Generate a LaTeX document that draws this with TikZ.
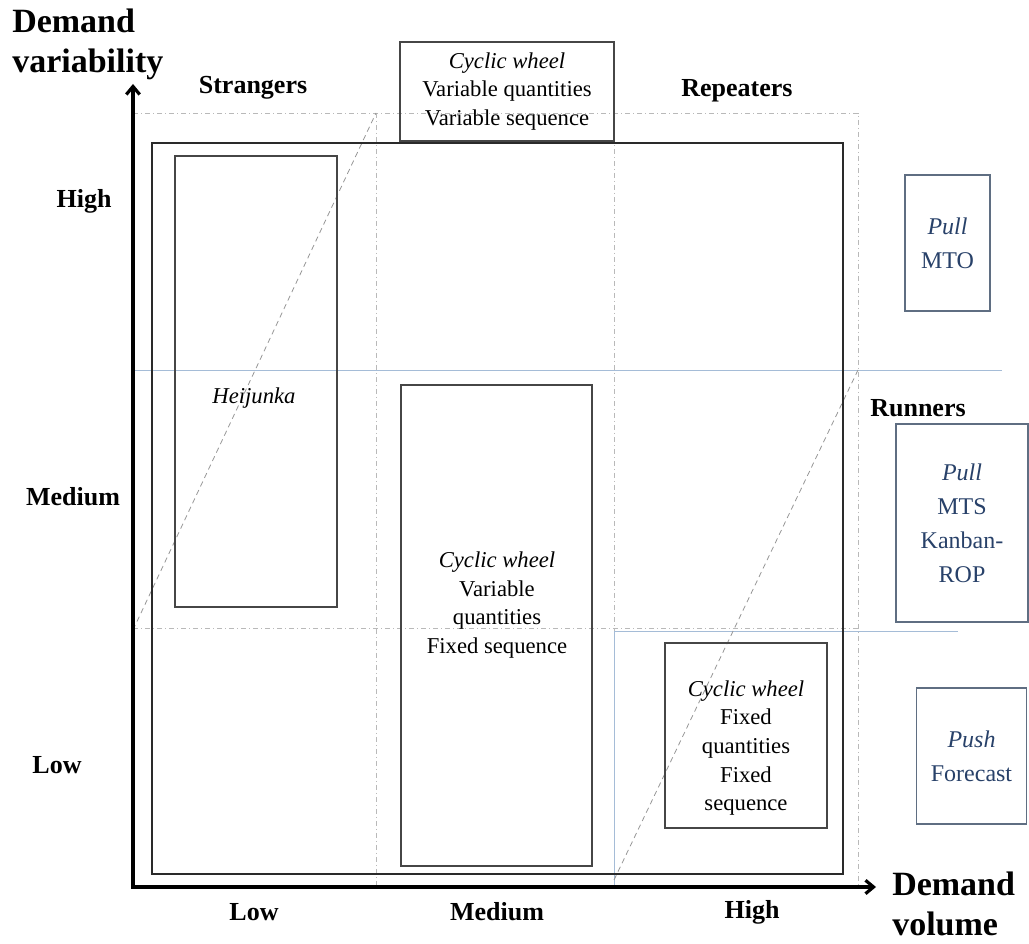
\documentclass[tikz,border=0pt]{standalone}
\usepackage{fontspec}
\setmainfont{Liberation Serif}
\usetikzlibrary{arrows.meta}
\definecolor{boxline}{RGB}{70,70,70}
\definecolor{pullblue}{RGB}{40,65,105}
\definecolor{pullline}{RGB}{95,110,130}
\definecolor{zoneline}{RGB}{165,188,215}
\definecolor{gridline}{RGB}{185,185,185}
\definecolor{diagline}{RGB}{150,150,150}

\begin{document}
\begin{tikzpicture}[x=0.75pt, y=-0.75pt,
axis/.style={line width=2.4pt, {Straight Barb[length=6pt,width=10pt]}-{Straight Barb[length=6pt,width=10pt]}},
frame/.style={draw=boxline!60!black, line width=2.2pt},
grid/.style={draw=gridline, line width=0.6pt, dash pattern=on 4pt off 2pt on 1pt off 2pt},
zone/.style={draw=zoneline, line width=0.7pt},
diag/.style={draw=diagline, line width=0.6pt, dash pattern=on 4pt off 3pt},
box/.style={draw=boxline, line width=1.1pt, inner sep=0pt},
boxtext/.style={align=center, inner sep=0pt, font=\fontsize{17}{21.5}\selectfont},
pullbox/.style={draw=pullline, line width=0.9pt, align=center, inner sep=0pt, text=pullblue, font=\fontsize{18}{25.5}\selectfont},
lab/.style={font=\bfseries\fontsize{19.5}{24}\selectfont},
title/.style={font=\bfseries\fontsize{25.5}{30}\selectfont, align=left, inner sep=0pt}]
\useasboundingbox (0,0) rectangle (1029,944);

% dashed grid and zones
\draw[grid] (133,113) -- (858,113) -- (858,887);
\foreach \gx in {376,614} \draw[grid] (\gx,113) -- (\gx,887);
\foreach \gy in {370,628} \draw[grid] (133,\gy) -- (858,\gy);
\draw[zone] (133,370) -- (1002,370);
\draw[zone] (614,887) -- (614,631) -- (958,631);
\draw[diag] (133,630) -- (376,113);
\draw[diag] (614,880) -- (858,370);

% outer frame and axes
\draw[frame] (152,143) rectangle (843,874);
\coordinate (origin) at (133,887);
\coordinate (ytip) at (133,84);
\coordinate (xtip) at (876,887);
\draw[axis] (ytip) -- (origin) -- (xtip);

% boxes
\node[box, minimum width=121.5pt, minimum height=338.25pt] (heijunka) at (256,381.5) {};
\node[boxtext] (heijtext) at (254,398) {\textit{Heijunka}};
\node[box, minimum width=143.25pt, minimum height=360.75pt] (cycmid) at (496.5,625.5) {};
\node[boxtext] (cycmidtext) at (497,605) {\textit{Cyclic wheel}\\Variable\\quantities\\Fixed sequence};
\node[box, boxtext, minimum width=160.5pt, minimum height=74.25pt] (cyctop) at (507,91.5) {\textit{Cyclic wheel}\\Variable quantities\\Variable sequence};
\node[box, minimum width=121.5pt, minimum height=138.75pt] (cycfix) at (746,735.5) {};
\node[boxtext] (cycfixtext) at (746,748) {\textit{Cyclic wheel}\\Fixed\\quantities\\Fixed\\sequence};
\node[pullbox, minimum width=63.75pt, minimum height=102pt] (mto) at (947.5,243) {\textit{Pull}\\MTO};
\node[pullbox, minimum width=99pt, minimum height=148.5pt] (mts) at (962,523) {\textit{Pull}\\MTS\\Kanban-\\ROP};
\node[pullbox, minimum width=82.5pt, minimum height=102pt] (push) at (971.5,756) {\textit{Push}\\Forecast};

% labels
\node[title, anchor=west] (yname) at (12,44) {Demand\\variability};
\node[title, anchor=west] (xname) at (892,904) {Demand\\volume};
\node[lab] (strangers) at (253,88) {Strangers};
\node[lab] (repeaters) at (737,91) {Repeaters};
\node[lab] (runners) at (918,408) {Runners};
\node[lab] (yhigh) at (84,201) {High};
\node[lab] (ymed) at (73,497) {Medium};
\node[lab] (ylow) at (57,765) {Low};
\node[lab] (xlow) at (254,912) {Low};
\node[lab] (xmed) at (497,912) {Medium};
\node[lab] (xhigh) at (752,912) {High};
\end{tikzpicture}
\end{document}
